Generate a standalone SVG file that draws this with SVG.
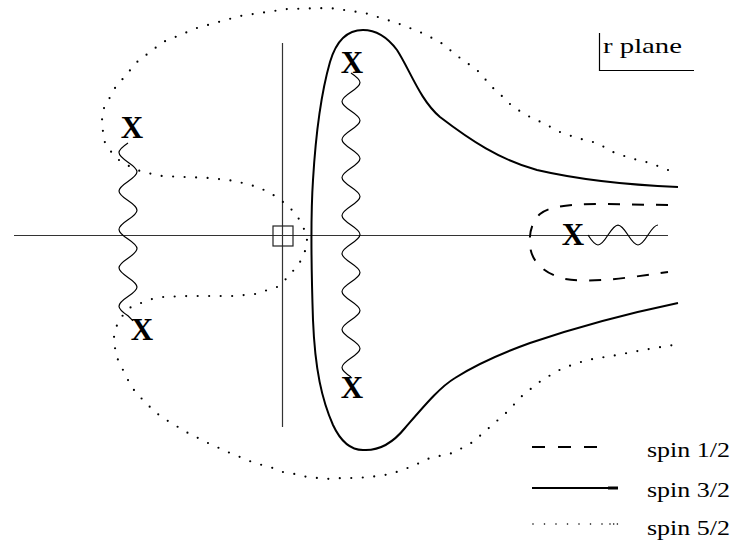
<svg xmlns="http://www.w3.org/2000/svg" width="733" height="541" viewBox="0 0 733 541">
<style>
.axis{stroke:#333;stroke-width:1.2;fill:none}
.solid{stroke:#000;stroke-width:2;fill:none}
.dash{stroke:#000;stroke-width:2;fill:none;stroke-dasharray:12 12}
.dot{stroke:#000;stroke-width:2.2;fill:none;stroke-dasharray:0 11.5;stroke-linecap:round}
.wave{stroke:#000;stroke-width:1.2;fill:none}
.x{font-weight:bold;font-size:31px;text-anchor:middle;fill:#000}
.lbl{font-size:22px;fill:#000}
</style>
<rect width="733" height="541" fill="#fff"/>
<g id="axes">
<line class="axis" x1="14" y1="235.5" x2="668" y2="235.5"/>
<line class="axis" x1="282.5" y1="43" x2="282.5" y2="427"/>
<rect id="origin" x="273" y="226" width="20" height="20" fill="none" stroke="#222" stroke-width="1.2"/>
</g>
<g id="connectors">
<path id="spin52" class="dot" d="M668,170 L650,163 630,158 613,152 597,143 577,138 560,132 543,123 530,117 513,107 503,97 493,88 477,70 460,58 440,42 420,32 397,23 365,13 330,8 287,9 240,16 197,28 163,42 137,62 115,88 103,110 102,120 103,132 105,143 112,153 120,161 129,166 140,171 152,174 162,176 185,177 210,178 235,181 258,187 272,194 283,202 292,210 299,219 304,229 307,240 305,251 300,262 293,271 286,279 277,287 255,294 233,296 210,296 187,296 163,297 152,299 141,303 131,307 123,315 117,325 114,337 115,348 118,360 123,370 128,380 134,390 142,399 150,407 159,415 168,421 178,427 188,433 198,438 208,443 219,448 230,453 240,457 252,462 262,465 273,468 283,472 295,474 307,477 318,478 330,479 342,478 356,478 370,477 385,475 400,471 415,465 430,458 453,453 473,442 490,427 507,412 523,395 542,380 563,368 587,360 617,355 643,350 673,345"/>
<path id="spin32" class="solid" d="M678,187 C630,185 580,180 537,170 C500,160 470,140 440,117 C420,100 410,70 397,50 C388,38 378,30 363,30 C345,30 335,45 330,62 C322,90 316,130 313,180 C311,210 311,260 313,320 C315,370 322,400 333,425 C340,440 350,450 363,450 C378,451 392,444 405,428 C425,405 440,387 455,378 C480,362 505,352 530,343 C580,326 630,313 678,303"/>
<path id="spin12" class="dash" d="M668,205 L600,204 C570,204 550,206 540,214 C532,222 529,232 530,245 C531,262 545,274 565,279 C590,283 620,279 668,272"/>
<path id="wave-left" class="wave" d="M128,143 c-12,8.1 -12,11.1 0,19.2 s12,11.1 0,19.2 s-12,11.1 0,19.2 s12,11.1 0,19.2 s-12,11.1 0,19.2 s12,11.1 0,19.2 s-12,11.1 0,19.2 s12,11.1 0,19.2 s-12,11.1 0,19.2 q3,3 5,5"/>
<path id="wave-mid" class="wave" d="M351,73 c12,8.06 12,10.94 0,19 s-12,10.94 0,19 s12,10.94 0,19 s-12,10.94 0,19 s12,10.94 0,19 s-12,10.94 0,19 s12,10.94 0,19 s-12,10.94 0,19 s12,10.94 0,19 s-12,10.94 0,19 s12,10.94 0,19 s-12,10.94 0,19 s12,10.94 0,19 s-12,10.94 0,19 s12,10.94 0,19 s-12,10.94 0,19"/>
<path id="wave-right" class="wave" d="M588,235 c8.48,13.3 11.52,13.3 20,0 s11.52,-13.3 20,0 s11.52,13.3 20,0 c3.26,-5.12 6.38,-10 10,-10"/>
</g>
<g font-family="Liberation Serif, serif">
<g id="x1"><text class="x" x="132" y="138">X</text></g>
<g id="x2"><text class="x" x="142" y="340">X</text></g>
<g id="x3"><text class="x" x="352" y="73">X</text></g>
<g id="x4"><text class="x" x="352" y="398">X</text></g>
<g id="x5"><text class="x" x="573" y="245">X</text></g>
<g id="rplane">
<polyline points="599.5,33 599.5,70.5 694,70.5" fill="none" stroke="#000" stroke-width="1.2"/>
<text class="lbl" x="603" y="53" textLength="79" lengthAdjust="spacingAndGlyphs">r plane</text>
</g>
<g id="legend">
<line class="dash" x1="532" y1="447" x2="598" y2="447" style="stroke-dasharray:13 13"/>
<text class="lbl" x="647" y="457" textLength="83" lengthAdjust="spacingAndGlyphs">spin 1/2</text>
<line class="solid" x1="532" y1="488" x2="610" y2="488"/>
<line stroke="#000" stroke-width="3" x1="608" y1="488" x2="618" y2="488"/>
<text class="lbl" x="647" y="497" textLength="83" lengthAdjust="spacingAndGlyphs">spin 3/2</text>
<path class="dot" d="M533,524 L605,524" style="stroke-width:1.6"/>
<path d="M610,524 L617.5,524" fill="none" stroke="#000" stroke-width="1.6" stroke-dasharray="0 3.7" stroke-linecap="round"/>
<text class="lbl" x="647" y="535" textLength="83" lengthAdjust="spacingAndGlyphs">spin 5/2</text>
</g>
</g>
</svg>
